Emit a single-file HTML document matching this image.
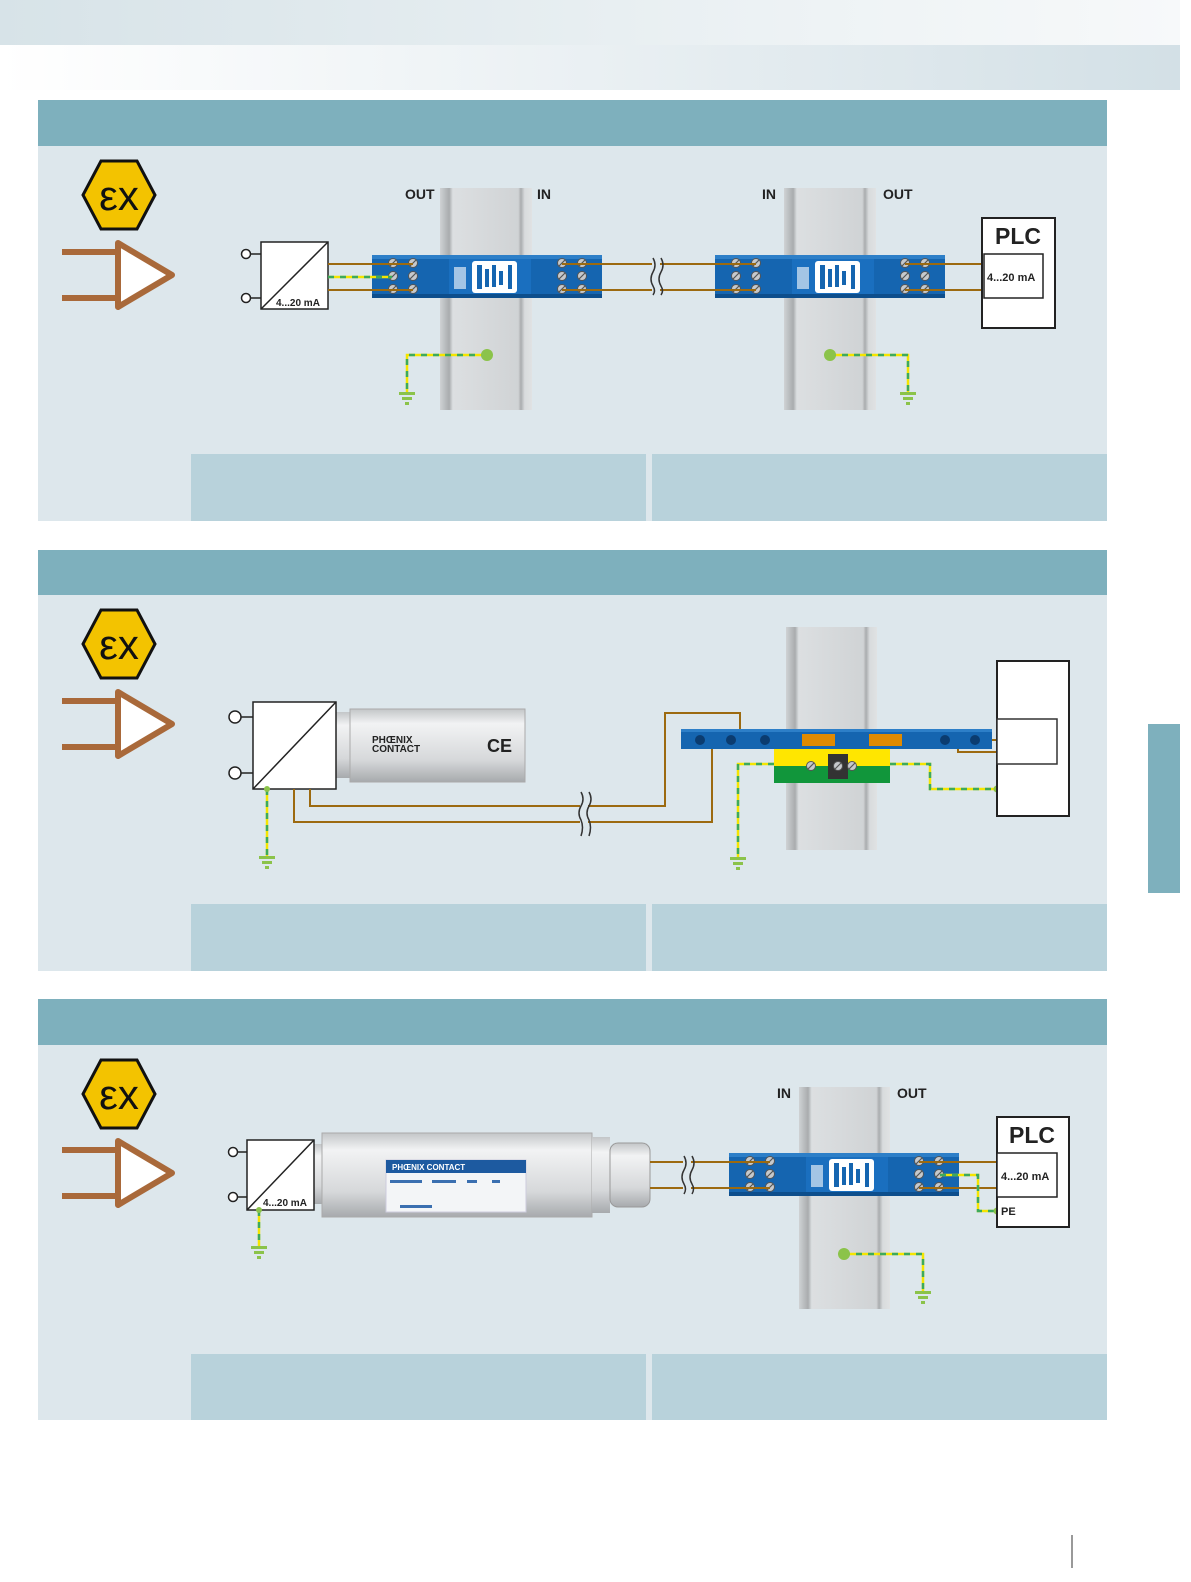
<!DOCTYPE html>
<html><head><meta charset="utf-8"><style>
html,body{margin:0;padding:0;background:#fff;overflow:hidden;width:1191px;height:1582px;}
svg{display:block;font-family:"Liberation Sans",Arial,sans-serif;}
</style></head><body>
<svg width="1191" height="1582" viewBox="0 0 1191 1582" xmlns="http://www.w3.org/2000/svg">
<defs>
<linearGradient id="top1" x1="0" x2="1"><stop offset="0" stop-color="#d7e3e8"/><stop offset="0.7" stop-color="#eef3f5"/><stop offset="1" stop-color="#f7f9fa"/></linearGradient>
<linearGradient id="top2" x1="0" x2="1"><stop offset="0" stop-color="#ffffff"/><stop offset="0.5" stop-color="#eaf0f3"/><stop offset="1" stop-color="#d3e0e6"/></linearGradient>
<linearGradient id="rail" x1="0" x2="1"><stop offset="0" stop-color="#cfd2d4"/><stop offset="0.1" stop-color="#a9acae"/><stop offset="0.14" stop-color="#dcdfe1"/><stop offset="0.85" stop-color="#d0d3d5"/><stop offset="0.88" stop-color="#a9acae"/><stop offset="0.92" stop-color="#d8dbdd"/><stop offset="1" stop-color="#e0e2e3"/></linearGradient>
<linearGradient id="cyl" x1="0" y1="0" x2="0" y2="1"><stop offset="0" stop-color="#c3c6c8"/><stop offset="0.2" stop-color="#f2f3f4"/><stop offset="0.7" stop-color="#d6d8da"/><stop offset="1" stop-color="#a7aaad"/></linearGradient>
<g id="ex">
<polygon points="-36,0 -18,-34 18,-34 36,0 18,34 -18,34" fill="#f3c300" stroke="#111" stroke-width="3"/>
<text x="0" y="15" text-anchor="middle" font-size="42" font-family="Liberation Sans,sans-serif" fill="#111">εx</text>
</g>
<g id="arrow">
<rect x="-56" y="-26" width="60" height="6" fill="#a9693a"/>
<rect x="-56" y="20" width="60" height="6" fill="#a9693a"/>
<polygon points="0,-32 54,0 0,32" fill="#fff" stroke="#a9693a" stroke-width="6" stroke-linejoin="round"/>
</g>
<g id="gnd">
<rect x="-8" y="0" width="16" height="3" fill="#8bc34a"/><rect x="-5" y="5" width="10" height="3" fill="#8bc34a"/><rect x="-2" y="10" width="4" height="3" fill="#8bc34a"/>
</g>
<g id="screw"><circle r="4.5" fill="#c6c9cc" stroke="#555" stroke-width="1"/><line x1="-3" y1="3" x2="3" y2="-3" stroke="#555" stroke-width="1.2"/></g>
<g id="mod">
<rect x="0" y="0" width="230" height="43" fill="#1565b0"/>
<rect x="0" y="0" width="230" height="4" fill="#2d7fc8"/>
<rect x="0" y="39" width="230" height="4" fill="#0d4e8c"/>
<rect x="77" y="4" width="82" height="35" fill="#1a6fbf"/>
<rect x="100" y="6" width="45" height="32" rx="3" fill="#fff"/>
<g fill="#1565b0"><rect x="105" y="10" width="5" height="24"/><rect x="113" y="14" width="4" height="18"/><rect x="120" y="10" width="4" height="22"/><rect x="127" y="16" width="4" height="14"/><rect x="136" y="10" width="4" height="24"/></g>
<rect x="82" y="12" width="12" height="22" fill="#fff" opacity="0.6"/>
</g>
</defs>

<rect x="0" y="0" width="1180" height="45" fill="url(#top1)"/>
<rect x="0" y="45" width="1180" height="45" fill="url(#top2)"/>
<rect x="1148" y="724" width="32" height="169" fill="#7eb0bd"/>
<line x1="1072" y1="1535" x2="1072" y2="1568" stroke="#333" stroke-width="1"/>

<g>
<rect x="38" y="100" width="1069" height="46" fill="#7eb0bd"/>
<rect x="38" y="146" width="1069" height="375" fill="#dde7ec"/>
<rect x="191" y="454" width="455" height="67" fill="#b8d2db"/>
<rect x="652" y="454" width="455" height="67" fill="#b8d2db"/>

<rect x="38" y="550" width="1069" height="45" fill="#7eb0bd"/>
<rect x="38" y="595" width="1069" height="376" fill="#dde7ec"/>
<rect x="191" y="904" width="455" height="67" fill="#b8d2db"/>
<rect x="652" y="904" width="455" height="67" fill="#b8d2db"/>

<rect x="38" y="999" width="1069" height="46" fill="#7eb0bd"/>
<rect x="38" y="1045" width="1069" height="375" fill="#dde7ec"/>
<rect x="191" y="1354" width="455" height="66" fill="#b8d2db"/>
<rect x="652" y="1354" width="455" height="66" fill="#b8d2db"/>
</g>

<use href="#ex" x="119" y="195"/><use href="#arrow" x="118" y="275"/>
<use href="#ex" x="119" y="644"/><use href="#arrow" x="118" y="724"/>
<use href="#ex" x="119" y="1094"/><use href="#arrow" x="118" y="1173"/>

<!-- Panel 1 -->
<rect x="440" y="188" width="92" height="222" fill="url(#rail)"/>
<rect x="784" y="188" width="92" height="222" fill="url(#rail)"/>
<g font-size="14" font-weight="bold" fill="#222">
<text x="405" y="199">OUT</text><text x="537" y="199">IN</text>
<text x="762" y="199">IN</text><text x="883" y="199">OUT</text>
</g>
<circle cx="246" cy="254" r="4.5" fill="#fff" stroke="#222" stroke-width="1.5"/><line x1="250" y1="254" x2="261" y2="254" stroke="#222" stroke-width="1.5"/>
<circle cx="246" cy="298" r="4.5" fill="#fff" stroke="#222" stroke-width="1.5"/><line x1="250" y1="298" x2="261" y2="298" stroke="#222" stroke-width="1.5"/>
<rect x="261" y="242" width="67" height="67" fill="#fff" stroke="#222" stroke-width="1.5"/>
<line x1="261" y1="309" x2="328" y2="242" stroke="#222" stroke-width="1.5"/>
<text x="276" y="306" font-size="10" font-weight="bold" fill="#222">4...20 mA</text>
<use href="#mod" x="372" y="255"/>
<use href="#mod" x="715" y="255"/>
<g>
<use href="#screw" x="393" y="263"/><use href="#screw" x="413" y="263"/><use href="#screw" x="393" y="276"/><use href="#screw" x="413" y="276"/><use href="#screw" x="393" y="289"/><use href="#screw" x="413" y="289"/>
<use href="#screw" x="562" y="263"/><use href="#screw" x="582" y="263"/><use href="#screw" x="562" y="276"/><use href="#screw" x="582" y="276"/><use href="#screw" x="562" y="289"/><use href="#screw" x="582" y="289"/>
<use href="#screw" x="736" y="263"/><use href="#screw" x="756" y="263"/><use href="#screw" x="736" y="276"/><use href="#screw" x="756" y="276"/><use href="#screw" x="736" y="289"/><use href="#screw" x="756" y="289"/>
<use href="#screw" x="905" y="263"/><use href="#screw" x="925" y="263"/><use href="#screw" x="905" y="276"/><use href="#screw" x="925" y="276"/><use href="#screw" x="905" y="289"/><use href="#screw" x="925" y="289"/>
</g>
<g stroke="#9c6a10" stroke-width="2" fill="none">
<line x1="328" y1="264" x2="413" y2="264"/><line x1="328" y1="290" x2="413" y2="290"/>
<line x1="562" y1="264" x2="652" y2="264"/><line x1="660" y1="264" x2="756" y2="264"/>
<line x1="562" y1="290" x2="652" y2="290"/><line x1="660" y1="290" x2="756" y2="290"/>
<line x1="905" y1="264" x2="984" y2="264"/><line x1="905" y1="290" x2="984" y2="290"/>
</g>
<g stroke="#333" stroke-width="1.5" fill="none"><path d="M653 258 q4 7 0 14 q-4 7 0 14 q3 5 0 9"/><path d="M661 258 q4 7 0 14 q-4 7 0 14 q3 5 0 9"/></g>
<line x1="328" y1="277" x2="392" y2="277" stroke="#f5e500" stroke-width="2.5"/><line x1="328" y1="277" x2="392" y2="277" stroke="#3daa5c" stroke-width="2.5" stroke-dasharray="6 6"/>
<rect x="982" y="218" width="73" height="110" fill="#fff" stroke="#222" stroke-width="2"/>
<rect x="984" y="254" width="59" height="44" fill="#fff" stroke="#222" stroke-width="1.5"/>
<text x="995" y="244" font-size="23" font-weight="bold" fill="#222">PLC</text>
<text x="987" y="281" font-size="11" font-weight="bold" fill="#222">4...20 mA</text>
<g fill="none" stroke-width="2.5">
<path d="M487 355 H407 V392" stroke="#f5e500"/><path d="M487 355 H407 V392" stroke="#3daa5c" stroke-dasharray="6 6"/>
<path d="M830 355 H908 V392" stroke="#f5e500"/><path d="M830 355 H908 V392" stroke="#3daa5c" stroke-dasharray="6 6"/>
</g>
<circle cx="487" cy="355" r="6" fill="#8bc34a"/><circle cx="830" cy="355" r="6" fill="#8bc34a"/>
<use href="#gnd" x="407" y="392"/><use href="#gnd" x="908" y="392"/>

<!-- Panel 2 -->
<rect x="786" y="627" width="91" height="223" fill="url(#rail)"/>
<circle cx="235" cy="717" r="6" fill="#fff" stroke="#222" stroke-width="1.5"/><line x1="241" y1="717" x2="253" y2="717" stroke="#222" stroke-width="1.5"/>
<circle cx="235" cy="773" r="6" fill="#fff" stroke="#222" stroke-width="1.5"/><line x1="241" y1="773" x2="253" y2="773" stroke="#222" stroke-width="1.5"/>
<rect x="336" y="712" width="14" height="66" fill="url(#cyl)"/>
<rect x="350" y="709" width="175" height="73" fill="url(#cyl)" stroke="#aaa"/>
<text x="372" y="743" font-size="10" font-weight="bold" fill="#222">PHŒNIX</text>
<text x="372" y="752" font-size="10" font-weight="bold" fill="#222">CONTACT</text>
<text x="487" y="752" font-size="18" font-weight="bold" fill="#222">CE</text>
<rect x="253" y="702" width="83" height="87" fill="#fff" stroke="#222" stroke-width="1.5"/>
<line x1="253" y1="789" x2="336" y2="702" stroke="#222" stroke-width="1.5"/>
<g stroke="#9c6a10" stroke-width="2" fill="none">
<path d="M310 789 V806 H580"/><path d="M588 806 H665 V713 H740 V740 H755"/>
<path d="M294 789 V822 H580"/><path d="M588 822 H712 V740 H724"/>
<path d="M945 740 H997"/><path d="M958 740 V752 H997"/>
</g>
<g stroke="#333" stroke-width="1.5" fill="none"><path d="M581 792 q4 7 0 14 q-4 7 0 14 q3 7 0 16"/><path d="M589 792 q4 7 0 14 q-4 7 0 14 q3 7 0 16"/></g>
<rect x="681" y="729" width="311" height="20" fill="#1565b0"/>
<rect x="681" y="729" width="311" height="3" fill="#2d7fc8"/>
<g fill="#0b3c70"><circle cx="700" cy="740" r="5"/><circle cx="731" cy="740" r="5"/><circle cx="765" cy="740" r="5"/><circle cx="945" cy="740" r="5"/><circle cx="975" cy="740" r="5"/></g>
<rect x="802" y="734" width="33" height="12" fill="#e08a00"/><rect x="869" y="734" width="33" height="12" fill="#e08a00"/>
<rect x="774" y="749" width="116" height="17" fill="#ffe600"/><rect x="774" y="766" width="116" height="17" fill="#11963b"/>
<rect x="828" y="754" width="20" height="25" fill="#333"/>
<use href="#screw" x="811" y="766"/><use href="#screw" x="838" y="766"/><use href="#screw" x="852" y="766"/>
<g fill="none" stroke-width="2.5">
<path d="M774 764 H738 V858" stroke="#f5e500"/><path d="M774 764 H738 V858" stroke="#3daa5c" stroke-dasharray="6 6"/>
<path d="M890 764 H930 V789 H997" stroke="#f5e500"/><path d="M890 764 H930 V789 H997" stroke="#3daa5c" stroke-dasharray="6 6"/>
<path d="M267 789 V856" stroke="#f5e500"/><path d="M267 789 V856" stroke="#3daa5c" stroke-dasharray="6 6"/>
</g>
<circle cx="267" cy="789" r="3" fill="#8bc34a"/><circle cx="997" cy="789" r="3.5" fill="#8bc34a"/>
<use href="#gnd" x="738" y="857"/><use href="#gnd" x="267" y="856"/>
<rect x="997" y="661" width="72" height="155" fill="#fff" stroke="#222" stroke-width="2"/>
<rect x="997" y="719" width="60" height="45" fill="#fff" stroke="#333" stroke-width="1.5"/>

<!-- Panel 3 -->
<rect x="799" y="1087" width="91" height="222" fill="url(#rail)"/>
<g font-size="14" font-weight="bold" fill="#222"><text x="777" y="1098">IN</text><text x="897" y="1098">OUT</text></g>
<circle cx="233" cy="1152" r="4.5" fill="#fff" stroke="#222" stroke-width="1.5"/><line x1="237" y1="1152" x2="247" y2="1152" stroke="#222" stroke-width="1.5"/>
<circle cx="233" cy="1197" r="4.5" fill="#fff" stroke="#222" stroke-width="1.5"/><line x1="237" y1="1197" x2="247" y2="1197" stroke="#222" stroke-width="1.5"/>
<rect x="314" y="1144" width="10" height="60" fill="url(#cyl)"/>
<rect x="322" y="1133" width="270" height="84" fill="url(#cyl)" stroke="#aaa"/>
<rect x="592" y="1137" width="18" height="76" fill="url(#cyl)"/>
<rect x="610" y="1143" width="40" height="64" rx="8" fill="url(#cyl)" stroke="#999"/>
<rect x="386" y="1160" width="140" height="52" fill="#f3f5f7" stroke="#ccd"/>
<rect x="386" y="1160" width="140" height="13" fill="#1d5aa0"/>
<text x="392" y="1170" font-size="8" font-weight="bold" fill="#fff">PHŒNIX CONTACT</text>
<g fill="#3a6fb0"><rect x="390" y="1180" width="32" height="3"/><rect x="432" y="1180" width="24" height="3"/><rect x="467" y="1180" width="10" height="3"/><rect x="492" y="1180" width="8" height="3"/><rect x="400" y="1205" width="32" height="3"/></g>
<rect x="247" y="1140" width="67" height="70" fill="#fff" stroke="#222" stroke-width="1.5"/>
<line x1="247" y1="1210" x2="314" y2="1140" stroke="#222" stroke-width="1.5"/>
<text x="263" y="1206" font-size="10" font-weight="bold" fill="#222">4...20 mA</text>
<use href="#mod" x="729" y="1153"/>
<g>
<use href="#screw" x="750" y="1161"/><use href="#screw" x="770" y="1161"/><use href="#screw" x="750" y="1174"/><use href="#screw" x="770" y="1174"/><use href="#screw" x="750" y="1187"/><use href="#screw" x="770" y="1187"/>
<use href="#screw" x="919" y="1161"/><use href="#screw" x="939" y="1161"/><use href="#screw" x="919" y="1174"/><use href="#screw" x="939" y="1174"/><use href="#screw" x="919" y="1187"/><use href="#screw" x="939" y="1187"/>
</g>
<g stroke="#9c6a10" stroke-width="2" fill="none">
<line x1="650" y1="1162" x2="683" y2="1162"/><line x1="691" y1="1162" x2="770" y2="1162"/>
<line x1="650" y1="1188" x2="683" y2="1188"/><line x1="691" y1="1188" x2="770" y2="1188"/>
<line x1="919" y1="1162" x2="997" y2="1162"/><line x1="919" y1="1188" x2="997" y2="1188"/>
</g>
<g stroke="#333" stroke-width="1.5" fill="none"><path d="M684 1156 q4 7 0 14 q-4 7 0 14 q3 5 0 10"/><path d="M692 1156 q4 7 0 14 q-4 7 0 14 q3 5 0 10"/></g>
<g fill="none" stroke-width="2.5">
<path d="M940 1175 H978 V1211 H997" stroke="#f5e500"/><path d="M940 1175 H978 V1211 H997" stroke="#3daa5c" stroke-dasharray="6 6"/>
<path d="M844 1254 H923 V1292" stroke="#f5e500"/><path d="M844 1254 H923 V1292" stroke="#3daa5c" stroke-dasharray="6 6"/>
<path d="M259 1210 V1246" stroke="#f5e500"/><path d="M259 1210 V1246" stroke="#3daa5c" stroke-dasharray="6 6"/>
</g>
<circle cx="844" cy="1254" r="6" fill="#8bc34a"/><circle cx="259" cy="1210" r="3" fill="#8bc34a"/><circle cx="997" cy="1211" r="3.5" fill="#8bc34a"/>
<use href="#gnd" x="923" y="1291"/><use href="#gnd" x="259" y="1246"/>
<rect x="997" y="1117" width="72" height="110" fill="#fff" stroke="#222" stroke-width="2"/>
<rect x="997" y="1153" width="60" height="44" fill="#fff" stroke="#222" stroke-width="1.5"/>
<text x="1009" y="1143" font-size="23" font-weight="bold" fill="#222">PLC</text>
<text x="1001" y="1180" font-size="11" font-weight="bold" fill="#222">4...20 mA</text>
<text x="1001" y="1215" font-size="11" font-weight="bold" fill="#222">PE</text>
</svg>
</body></html>
